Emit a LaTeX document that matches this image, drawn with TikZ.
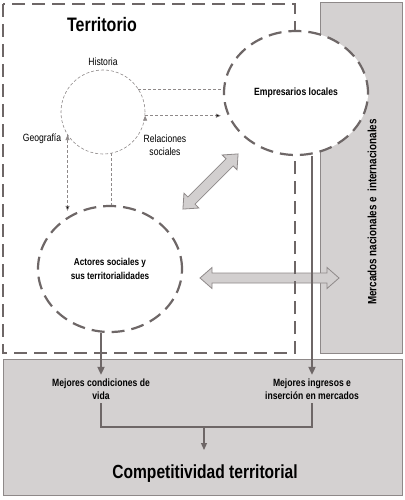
\documentclass[tikz,border=0pt]{standalone}
\usepackage{fontspec}
\setmainfont{Liberation Sans}[FakeStretch=0.82]
\usetikzlibrary{arrows.meta, shapes.geometric}

\definecolor{lineGray}{HTML}{6E6767}
\definecolor{thinGray}{HTML}{8E8989}
\definecolor{boxGray}{HTML}{D4D1D1}
\definecolor{arrowFill}{HTML}{D2CFCF}

\tikzset{
  bigdash/.style={draw=lineGray, line width=2.2pt, dash pattern=on 13pt off 7pt},
  smalldash/.style={draw=thinGray, line width=0.6pt, dash pattern=on 3pt off 2pt},
  blockarrow/.style={draw=thinGray, fill=arrowFill, line width=0.8pt, line join=miter},
  flow/.style={draw=lineGray, line width=1.8pt, -{Triangle[length=8pt,width=7pt]}},
}

% centre, angle, length
\newcommand{\bigarrow}[3]{%
  \draw[blockarrow, shift={#1}, rotate=#2]
    (-#3/2,0) -- ++(12,10.5) -- ++(0,-5.5) -- (#3/2-12,5) -- ++(0,5.5)
    -- (#3/2,0) -- ++(-12,-10.5) -- ++(0,5.5) -- (-#3/2+12,-5) -- ++(0,-5.5) -- cycle;}

\begin{document}
\begin{tikzpicture}[x=1pt,y=-1pt]
\useasboundingbox (0,0) rectangle (404,500);

% cajas grises
\draw[draw=thinGray, fill=boxGray, line width=0.8pt] (3,359) rectangle (402,495);
\draw[draw=thinGray, fill=boxGray, line width=0.8pt] (320,2) rectangle (402,353);

\bigarrow{(210.5,181.5)}{45}{78}
\bigarrow{(269.5,278)}{0}{139}

\draw[bigdash] (3,4) rectangle (295,353);

\node[font=\bfseries\fontsize{12}{14}\selectfont, rotate=90] (merc) at (372,212) {Mercados nacionales e \ internacionales};
\node[font=\bfseries\fontsize{19.5}{22}\selectfont] (terr) at (102,25) {Territorio};

\begin{scope}[every node/.style={align=center, font=\bfseries\fontsize{10.5}{13.5}\selectfont}]
    \node (mcv) at (101,389) {Mejores condiciones de\\vida};
    \node (mim) at (312,389) {Mejores ingresos e\\inserción en mercados};
    \node[font=\bfseries\fontsize{19}{22}\selectfont] (ct) at (205,474) {Competitividad territorial};
\end{scope}

% elipses
\begin{scope}[every node/.style={ellipse, bigdash, fill=white, align=center, inner sep=0pt}]
    \node[minimum width=144, minimum height=124, font=\bfseries\fontsize{10.5}{13}\selectfont] (emp) at (296,93) {Empresarios locales};
    \node[minimum width=144, minimum height=126, font=\bfseries\fontsize{10}{14.5}\selectfont] (act) at (110,269) {Actores sociales y\\sus territorialidades};
\end{scope}

\node[circle, smalldash, minimum size=84, inner sep=0] (hist) at (103,112) {};
\begin{scope}[every node/.style={align=center, font=\fontsize{10.5}{13}\selectfont}]
    \node (histlab) at (103,62) {Historia};
    \node (geo) at (42,139) {Geografía};
    \node (rel) at (165,145) {Relaciones\\sociales};
\end{scope}

\coordinate (mid) at (204,427);
\coordinate (ctop) at (204,450);

\begin{scope}[>={Triangle[length=5pt,width=4pt]}]
    \path[smalldash] (hist.33) edge (hist.33 -| emp.west);
    \path[smalldash, ->] (hist.-5) edge ([xshift=-2pt]hist.-5 -| emp.west);
    \path[smalldash, ->] (hist.213) edge ([yshift=-6pt]hist.213 |- act.north);
    \path[smalldash] (hist.-78) edge (hist.-78 |- act.north);
\end{scope}

\draw[flow] (mcv.north |- act.south) -- (mcv.north);
\draw[flow] (mim.north |- emp.south) -- (mim.north);
\draw[draw=lineGray, line width=1.2pt] (mcv.south) |- (mid) -| (mim.south);
\draw[draw=lineGray, line width=1.2pt, -{Triangle[length=7pt,width=6pt]}] (mid) -- (ctop);
\end{tikzpicture}
\end{document}
